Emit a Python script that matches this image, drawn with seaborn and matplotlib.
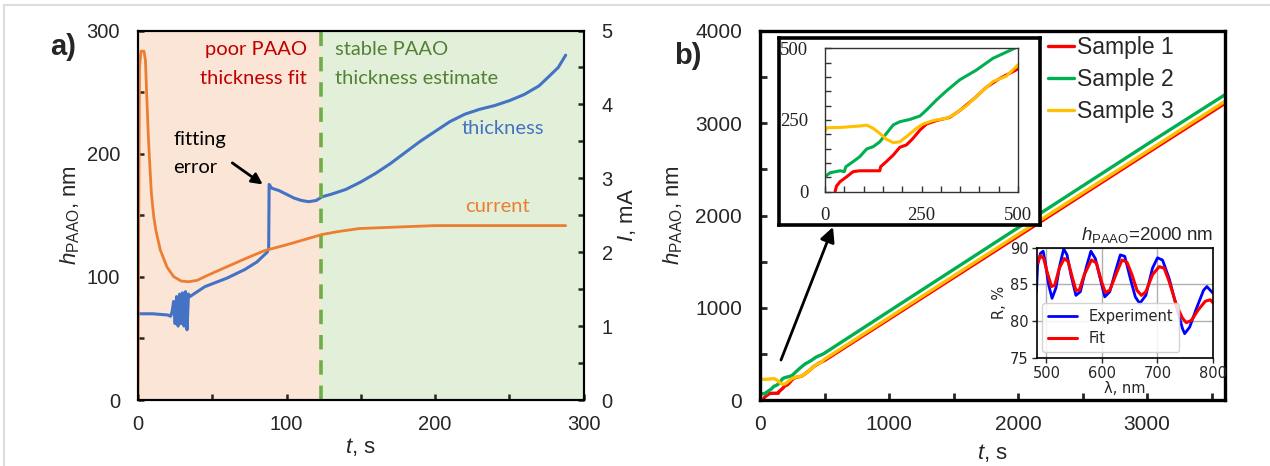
import matplotlib
matplotlib.use('Agg')
import matplotlib.pyplot as plt
from matplotlib.lines import Line2D
from matplotlib.ticker import MultipleLocator
import seaborn as sns

# ---- panel a: in-situ thickness fit and anodisation current ----
thick_t = [0.5, 10, 20, 22, 23, 24, 25, 26, 27, 28, 29, 30, 31, 32, 33, 34, 35, 45, 60, 72,
           80, 87, 88, 88.3, 90, 95, 100, 105, 110, 115, 120, 124, 130, 140, 150, 160, 170,
           180, 190, 200, 210, 220, 230, 240, 250, 260, 270, 277, 283, 288]
thick_h = [70, 70, 69, 68, 72, 80, 62, 84, 60, 86, 62, 87, 60, 88, 57, 86, 84, 92, 99, 106,
           112, 120, 123, 175, 172, 170, 167, 164, 162, 161, 162, 165, 167, 171, 177, 184, 192,
           201, 210, 218, 226, 232, 236, 239, 243, 248, 255, 263, 270, 280]

curr_t = [0, 0.5, 1, 2, 4, 5, 6, 7, 8, 9, 10.6, 12, 15, 19.5, 24, 29, 34, 40, 45, 55, 72,
          85, 100, 112, 124, 135, 149, 174, 200, 237, 265, 288]
curr_i = [0, 2.5, 4.5, 4.72, 4.72, 4.6, 4.06, 3.55, 3.16, 2.8, 2.48, 2.3, 2.03, 1.8, 1.67,
          1.61, 1.6, 1.62, 1.67, 1.76, 1.91, 2.02, 2.10, 2.17, 2.24, 2.28, 2.32, 2.34, 2.36,
          2.36, 2.36, 2.36]
split_t = 123

# ---- panel b: thickness of three samples ----
s1_t = [26, 30, 39, 56, 73, 90, 142, 144, 159, 177, 194, 211, 228, 246, 263, 289, 323, 349,
        384, 418, 453, 500, 1000, 2000, 3000, 3600]
s1_h = [0, 20, 35, 52, 70, 73, 73, 87, 105, 128, 155, 163, 186, 215, 236, 248, 259, 283,
        322, 364, 395, 428, 877, 1775, 2675, 3212]
s2_t = [0, 13, 39, 50, 54, 73, 90, 108, 125, 142, 159, 177, 194, 220, 246, 263, 289, 315,
        349, 392, 435, 491, 1000, 2000, 3000, 3600]
s2_h = [52, 66, 73, 70, 87, 105, 122, 149, 157, 174, 203, 233, 244, 252, 264, 285, 320, 352,
        390, 424, 465, 500, 962, 1867, 2772, 3306]
s3_t = [0, 4, 39, 90, 108, 125, 142, 159, 177, 194, 211, 237, 254, 280, 315, 332, 366, 401,
        435, 470, 500, 1000, 2000, 3000, 3600]
s3_h = [209, 223, 224, 229, 232, 221, 203, 183, 171, 174, 192, 221, 236, 248, 256, 267, 299,
        343, 384, 403, 442, 893, 1795, 2695, 3234]
sample_names = ['Sample 1', 'Sample 2', 'Sample 3']

# ---- reflectance spectrum inset ----
exp_wl = [482, 484, 489, 494, 498, 504, 510, 517, 524, 531, 537, 544, 553, 561, 572, 580,
          588, 598, 605, 614, 624, 633, 641, 651, 660, 668, 679, 691, 700, 709, 721, 734,
          745, 749, 758, 770, 783, 789, 795, 800]
exp_r = [84.0, 87.6, 89.2, 89.5, 87.9, 84.9, 83.1, 84.5, 87.6, 89.8, 89.0, 86.3, 83.5, 84.0,
         87.4, 89.5, 88.5, 85.4, 83.3, 84.0, 86.7, 89.0, 88.8, 85.8, 83.3, 82.4, 83.5, 87.2,
         88.6, 88.3, 85.8, 82.0, 79.0, 78.3, 79.2, 81.7, 84.2, 84.7, 84.2, 83.8]
fit_wl = [482, 489, 495, 501, 509, 515, 523, 532, 539, 547, 553, 559, 568, 581, 590, 599,
          606, 614, 627, 636, 645, 654, 663, 671, 679, 691, 703, 712, 721, 734, 745, 752, 761,
          773, 786, 795, 800]
fit_r = [87.6, 88.9, 88.5, 86.7, 84.7, 84.9, 87.2, 88.5, 88.1, 85.8, 84.2, 84.2, 86.3, 88.3,
         87.9, 85.4, 83.9, 84.2, 86.7, 88.3, 88.0, 86.3, 84.2, 83.5, 84.0, 86.3, 87.4, 87.2,
         85.4, 82.2, 80.4, 79.8, 80.1, 81.5, 82.7, 82.9, 82.5]

sns.set_style('ticks')
plt.rcParams['font.family'] = ['Liberation Sans', 'DejaVu Sans']
plt.rcParams['mathtext.fontset'] = 'custom'
plt.rcParams['mathtext.rm'] = 'Liberation Sans'
plt.rcParams['mathtext.it'] = 'Liberation Sans:italic'

W, H = 1270, 466
fig = plt.figure(figsize=(12.7, 4.66), dpi=100)


def fax(x0, y0, x1, y1):
    # pixel box (top-left origin) -> figure fraction rect
    return [x0 / W, (H - y1) / H, (x1 - x0) / W, (y1 - y0) / H]


# faint frame of the original figure
fig.add_artist(Line2D([4 / W, 4 / W], [0, 1 - 5 / H], transform=fig.transFigure, color='#dedede', lw=1.5))
fig.add_artist(Line2D([4 / W, 1], [1 - 5 / H, 1 - 5 / H], transform=fig.transFigure, color='#dedede', lw=1.5))

# ================= panel a =================
ax_a = fig.add_axes(fax(138, 30.5, 583.5, 400))
ax_a.axvspan(0, split_t, color='#FBE5D6', lw=0, zorder=0)
ax_a.axvspan(split_t, 300, color='#E2F0D9', lw=0, zorder=0)
sns.lineplot(x=thick_t, y=thick_h, ax=ax_a, color='#4472C4', lw=2.2, estimator=None, zorder=3)
ax_a.axvline(split_t, color='#70AD47', lw=2.6, ls=(0, (4, 3)), zorder=4)
ax_a.set_xlim(0, 300)
ax_a.set_ylim(0, 300)
ax_a.xaxis.set_major_locator(MultipleLocator(100))
ax_a.xaxis.set_minor_locator(MultipleLocator(50))
ax_a.yaxis.set_major_locator(MultipleLocator(100))
ax_a.yaxis.set_minor_locator(MultipleLocator(50))

ax_i = ax_a.twinx()
sns.lineplot(x=curr_t, y=curr_i, ax=ax_i, color='#ED7D31', lw=2, estimator=None)
ax_i.set_ylim(0, 5)
ax_i.yaxis.set_major_locator(MultipleLocator(1))
ax_i.yaxis.set_minor_locator(MultipleLocator(0.5))

for a in (ax_a, ax_i):
    for s in a.spines.values():
        s.set_linewidth(1.5)
        s.set_color('black')
    a.tick_params(which='both', direction='in', length=4, width=1.8, labelsize=14.5, pad=13)
ax_a.tick_params(axis='x', pad=11)

ax_a.set_ylabel(r'$h_{\mathrm{PAAO}}$, nm', fontsize=16, va='center')
ax_a.yaxis.set_label_coords(-0.153, 0.5)
ax_a.set_xlabel(r'$t$, s', fontsize=16, va='center')
ax_a.xaxis.set_label_coords(0.5, -0.127)
ax_i.set_ylabel(r'$I$, mA', fontsize=16, va='center', rotation=90)
ax_i.yaxis.set_label_coords(1.098, 0.5)

lato = ['Lato', 'DejaVu Sans']
ax_a.text(113.8, 284.2, 'poor PAAO', color='#C00000', fontsize=14.5, ha='right', va='center', family=lato)
ax_a.text(113.8, 261.4, 'thickness fit', color='#C00000', fontsize=14.5, ha='right', va='center', family=lato)
ax_a.text(132.7, 284.2, 'stable PAAO', color='#538135', fontsize=14.5, ha='left', va='center', family=lato)
ax_a.text(132.7, 261.4, 'thickness estimate', color='#538135', fontsize=14.5, ha='left', va='center', family=lato)
ax_a.text(23.6, 211.1, 'fitting', color='black', fontsize=14.5, ha='left', va='center', family=lato)
ax_a.text(23.6, 188.4, 'error', color='black', fontsize=14.5, ha='left', va='center', family=lato)
ax_a.text(245.8, 220.8, 'thickness', color='#4472C4', fontsize=14.5, ha='center', va='center', family=lato)
ax_a.text(241.8, 156.7, 'current', color='#ED7D31', fontsize=14.5, ha='center', va='center', family=lato)
ax_a.annotate('', xy=(84, 175), xytext=(63.5, 192.5),
              arrowprops=dict(arrowstyle='-|>', color='black', lw=2, mutation_scale=16, shrinkA=0, shrinkB=0))

fig.text(50 / W, 1 - 47 / H, 'a)', fontsize=21, weight='bold', va='center', ha='left')

# ================= panel b =================
ax_b = fig.add_axes(fax(760, 31, 1224.5, 400))
sample_cols = ['#FF0000', '#00B050', '#FFC000']
for t, h, c, n in zip([s1_t, s2_t, s3_t], [s1_h, s2_h, s3_h], sample_cols, sample_names):
    sns.lineplot(x=t, y=h, ax=ax_b, color=c, lw=2.4, label=n, estimator=None)
ax_b.set_xlim(0, 3600)
ax_b.set_ylim(0, 4000)
ax_b.xaxis.set_major_locator(MultipleLocator(1000))
ax_b.xaxis.set_minor_locator(MultipleLocator(500))
ax_b.yaxis.set_major_locator(MultipleLocator(1000))
ax_b.yaxis.set_minor_locator(MultipleLocator(500))
for s in ax_b.spines.values():
    s.set_linewidth(2.4)
    s.set_color('black')
ax_b.tick_params(which='both', direction='in', length=5, width=2, labelsize=15, pad=13)
ax_b.tick_params(axis='x', pad=11)
ax_b.set_ylabel(r'$h_{\mathrm{PAAO}}$, nm', fontsize=16, va='center')
ax_b.yaxis.set_label_coords(-0.187, 0.5)
ax_b.set_xlabel(r'$t$, s', fontsize=16, va='center')
ax_b.xaxis.set_label_coords(0.5, -0.144)
ax_b.legend(loc='upper left', bbox_to_anchor=(1048 / W, 1 - 36 / H), bbox_transform=fig.transFigure,
            frameon=False, fontsize=16.5, handlelength=1.15, handletextpad=0.1, labelspacing=0.4,
            borderaxespad=0, borderpad=0)
ax_b.annotate('', xy=(833, H - 227), xytext=(781, H - 360), xycoords='figure pixels',
              textcoords='figure pixels',
              arrowprops=dict(arrowstyle='-|>', color='black', lw=2, mutation_scale=22, shrinkA=0, shrinkB=0))
fig.text(674 / W, 1 - 56 / H, 'b)', fontsize=21, weight='bold', va='center', ha='left')

# zoom inset (white box with thick frame)
ax_box = fig.add_axes(fax(779, 37.5, 1039.5, 225))
ax_box.set_xticks([])
ax_box.set_yticks([])
ax_box.set_facecolor('white')
for s in ax_box.spines.values():
    s.set_linewidth(2.6)
    s.set_color('black')

ax_z = fig.add_axes(fax(825, 48.3, 1018, 191.7))
for t, h, c in zip([s1_t, s2_t, s3_t], [s1_h, s2_h, s3_h], sample_cols):
    sns.lineplot(x=t, y=h, ax=ax_z, color=c, lw=2.2, estimator=None)
ax_z.set_xlim(0, 500)
ax_z.set_ylim(0, 500)
ax_z.xaxis.set_major_locator(MultipleLocator(250))
ax_z.xaxis.set_minor_locator(MultipleLocator(50))
ax_z.yaxis.set_major_locator(MultipleLocator(250))
ax_z.yaxis.set_minor_locator(MultipleLocator(50))
for s in ax_z.spines.values():
    s.set_linewidth(1)
    s.set_color('#333333')
ax_z.tick_params(which='both', direction='in', length=4, width=1, color='#333333',
                 top=False, right=False, labelsize=13.5, labelcolor='#222222', pad=11)
ax_z.tick_params(axis='y', pad=12)
for lab in ax_z.get_xticklabels() + ax_z.get_yticklabels():
    lab.set_family(['Liberation Serif', 'DejaVu Serif'])

# reflectance inset
ax_sp = fig.add_axes(fax(1036.5, 247.5, 1213, 358))
ax_sp.set_facecolor('white')
sns.lineplot(x=exp_wl, y=exp_r, ax=ax_sp, color='#0000FF', lw=2, label='Experiment', estimator=None)
sns.lineplot(x=fit_wl, y=fit_r, ax=ax_sp, color='#FF0000', lw=2.2, label='Fit', estimator=None)
ax_sp.set_xlim(482, 800)
ax_sp.set_ylim(75, 90)
ax_sp.set_xticks([500, 600, 700, 800])
ax_sp.set_yticks([75, 80, 85, 90])
ax_sp.grid(True, color='#b0b0b0', lw=1)
for s in ax_sp.spines.values():
    s.set_linewidth(1.2)
    s.set_color('black')
ax_sp.tick_params(direction='out', length=3.5, width=1, labelsize=10.5, pad=2)
for lab in ax_sp.get_xticklabels() + ax_sp.get_yticklabels():
    lab.set_family('DejaVu Sans')
ax_sp.set_xlabel('λ, nm', fontsize=10.5, family='DejaVu Sans', labelpad=0)
ax_sp.set_ylabel('R, %', fontsize=10.5, family='DejaVu Sans', labelpad=2)
ax_sp.legend(loc='lower left', prop={'family': 'DejaVu Sans', 'size': 10.5}, handlelength=2.0,
             borderaxespad=0.4, framealpha=0.85, edgecolor='#cccccc', fancybox=True)
ax_sp.text(1.0, 1.02, r'$h_{\mathrm{PAAO}}$=2000 nm', transform=ax_sp.transAxes, ha='right',
           va='bottom', fontsize=13.5)

fig.savefig('out.png', dpi=100)
